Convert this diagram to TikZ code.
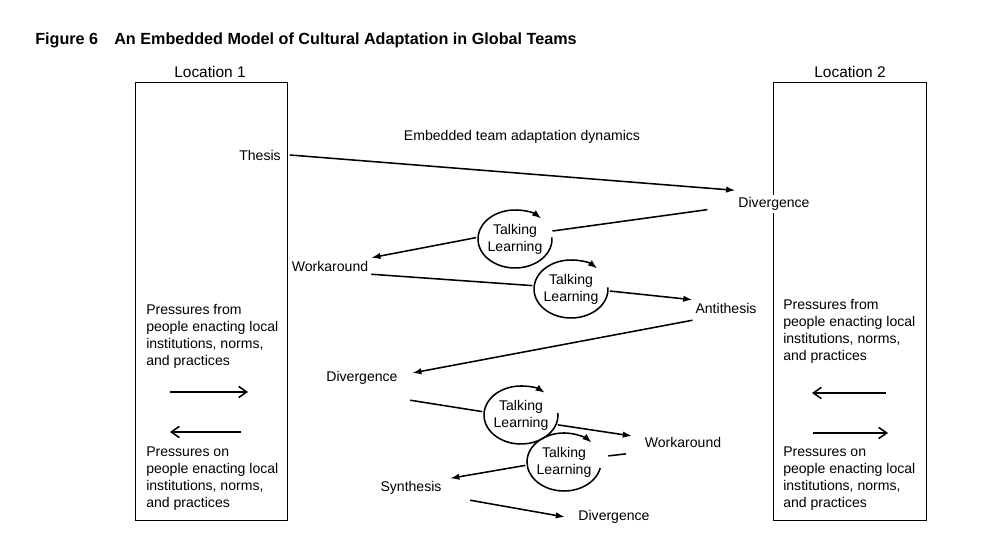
\documentclass[tikz,border=0pt]{standalone}
\usepackage{fontspec}
\setmainfont{Liberation Sans}
\usetikzlibrary{arrows.meta,shapes.geometric}

\begin{document}
\begin{tikzpicture}[font=\fontsize{10}{12}\selectfont]
	\tikzset{lb/.style={fill=white, inner sep=2pt},
		tl/.style={ellipse, minimum width=1.85cm, minimum height=1.45cm, inner sep=0pt, align=center},
		pr/.style={anchor=north west, align=left, inner sep=0pt},
		locbox/.style={draw=black, line width=0.7pt, minimum width=3.8cm, minimum height=10.925cm, inner sep=0pt},
		ar/.style={line width=1.1pt, -{Latex[length=2.3mm,width=1.6mm]}},
		ln/.style={line width=1.1pt},
		tlarc/.style={line width=1.1pt, -{Latex[length=2.3mm,width=1.7mm]}},
		pa/.style={line width=1.1pt, -{Straight Barb[length=2mm,width=2.8mm]}}};
	\useasboundingbox (0,0) rectangle (24.7,13.575);

	\node[anchor=west, inner sep=0pt, font=\fontsize{11.5}{13}\selectfont\bfseries] (title) at (0.875,12.575) {Figure 6\quad An Embedded Model of Cultural Adaptation in Global Teams};

	\node[locbox] (loc1) at (5.275,6.0375) {};
	\node[locbox, minimum width=3.825cm] (loc2) at (21.2375,6.0375) {};
	\node[font=\fontsize{11}{13}\selectfont] (loc1t) at (5.25,11.775) {Location 1};
	\node[font=\fontsize{11}{13}\selectfont] (loc2t) at (21.25,11.775) {Location 2};

	\node (emb) at (13.05,10.15) {Embedded team adaptation dynamics};

	\node[lb] (th) at (6.5,9.7) {Thesis};
	\node[lb] (dv1) at (19.35,8.475) {Divergence};
	\node[tl] (tl1) at (12.875,7.6) {Talking\\Learning};
	\node[lb] (wk1) at (8.25,6.925) {Workaround};
	\node[tl] (tl2) at (14.275,6.35) {Talking\\Learning};
	\node[lb] (an) at (18.15,5.875) {Antithesis};
	\node[lb] (dv2) at (9.05,4.125) {Divergence};
	\node[tl] (tl3) at (13.025,3.2) {Talking\\Learning};
	\node[lb] (wk2) at (17.075,2.525) {Workaround};
	\node[tl] (tl4) at (14.1,2.025) {Talking\\Learning};
	\node[lb] (sy) at (10.275,1.375) {Synthesis};
	\node[lb] (dv3) at (15.35,0.65) {Divergence};

	\node[pr] (pf1) at (3.65,5.975) {Pressures from\\people enacting local\\institutions, norms,\\and practices};
	\node[pr] (po1) at (3.65,2.4) {Pressures on\\people enacting local\\institutions, norms,\\and practices};
	\node[pr] (pf2) at (19.575,6.1) {Pressures from\\people enacting local\\institutions, norms,\\and practices};
	\node[pr] (po2) at (19.575,2.4) {Pressures on\\people enacting local\\institutions, norms,\\and practices};

	\coordinate (p1a) at (4.25,3.775);
	\coordinate (p1b) at (6.2,3.775);
	\coordinate (p2a) at (6.025,2.775);
	\coordinate (p2b) at (4.25,2.775);
	\coordinate (p3a) at (22.15,3.75);
	\coordinate (p3b) at (20.3,3.75);
	\coordinate (p4a) at (20.325,2.75);
	\coordinate (p4b) at (22.2,2.75);

	\draw[pa] (p1a) -- (p1b);
	\draw[pa] (p2a) -- (p2b);
	\draw[pa] (p3a) -- (p3b);
	\draw[pa] (p4a) -- (p4b);

	\draw[tlarc] ([shift={(3:0.925cm and 0.725cm)}]tl1.center) arc[start angle=3, end angle=-315, x radius=0.925cm, y radius=0.725cm];
	\draw[tlarc] ([shift={(3:0.925cm and 0.725cm)}]tl2.center) arc[start angle=3, end angle=-315, x radius=0.925cm, y radius=0.725cm];
	\draw[tlarc] ([shift={(4:0.925cm and 0.725cm)}]tl3.center) arc[start angle=4, end angle=-310, x radius=0.925cm, y radius=0.725cm];
	\draw[tlarc] ([shift={(-12:0.925cm and 0.725cm)}]tl4.center) arc[start angle=-12, end angle=-318, x radius=0.925cm, y radius=0.725cm];

	\draw[ar] ([xshift=0.15cm]th.east) -- ([yshift=0.1cm]dv1.north west);
	\draw[ln] ([shift={(-0.7,0.1)}]dv1.south west) -- (tl1.12);
	\draw[ar] (tl1.178) -- (wk1.north east);
	\draw[ln] (wk1.south east) -- (tl2.175);
	\draw[ar] (tl2.-3) -- (an.north west);
	\draw[ar] ([yshift=-0.1cm]an.south west) -- ([shift={(0.29,0.125)}]dv2.east);
	\draw[ln] ([shift={(0.24,-0.315)}]dv2.south east) -- (tl3.175);
	\draw[ar] (tl3.-15) -- ([shift={(-0.245,0.15)}]wk2.west);
	\draw[ln, shorten >=1.5mm] ([shift={(-0.395,-0.09)}]wk2.south west) -- (tl4.8);
	\draw[ar] (tl4.185) -- ([xshift=0.14cm]sy.north east);
	\draw[ar] ([shift={(0.64,-0.065)}]sy.south east) -- ([xshift=-0.26cm]dv3.west);

\end{tikzpicture}
\end{document}
